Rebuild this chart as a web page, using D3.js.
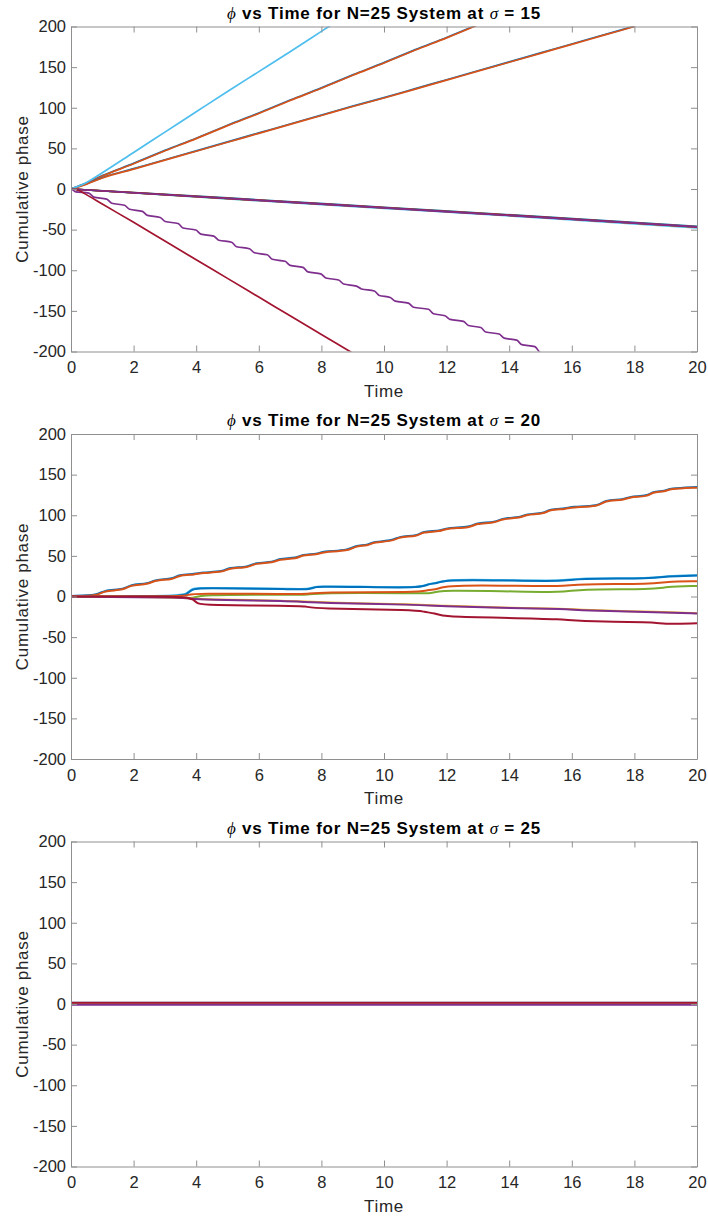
<meta charset="utf-8">
<html>
<script src="https://d3js.org/d3.v7.min.js"></script>
<style>
body { margin: 0; background: #fff; }
svg text { font-family: "Liberation Sans", Arial, Helvetica, sans-serif; }
</style>
<body>
<svg id="fig" width="708" height="1217"></svg>
<script type="text/javascript">

// ---- data ----
var xTicks = [0, 2, 4, 6, 8, 10, 12, 14, 16, 18, 20];
var yTicks = [-200, -150, -100, -50, 0, 50, 100, 150, 200];
var sigmas = [15, 20, 25];

// sigma = 15   ([time, cumulative phase])
var p1LightBlue = [[0,0],[0.5,8],[1,20],[2,45],[3,70],[4,95],[5,120],[6,144.5],[7,169],[8,194],[8.4,204]];
var p1BlueA   = [[0,0],[0.5,7.5],[1,16.5],[2,31.5],[3,47.5],[4,62.5],[5,78.5],[6,93.5],[7,109.5],[8,124.5],[9,140.5],[10,155.5],[11,171.5],[12,186.5],[13,202.5]];
var p1OrangeA = [[0,0],[0.5,7],[1,16],[2,31],[3,47],[4,62],[5,78],[6,93],[7,109],[8,124],[9,140],[10,155],[11,171],[12,186],[13,202]];
var p1BlueB   = [[0,0],[0.5,6.5],[1,14],[2,25],[3,36],[4,47],[5,58],[6,69],[7,80],[8,91],[9,102],[10,112.5],[11,123.5],[12,134.5],[13,145.5],[14,156.5],[15,167.5],[16,178.5],[17,189.5],[18,200.5]];
var p1OrangeB = [[0,0],[0.5,6],[1,13.5],[2,24.5],[3,35.5],[4,46.5],[5,57.5],[6,68.5],[7,79.5],[8,90.5],[9,101.5],[10,112],[11,123],[12,134],[13,145],[14,156],[15,167],[16,178],[17,189],[18,200]];
var p1ClLightBlue = [[0,0],[5,-12.2],[10,-23.8],[15,-35.5],[20,-48]];
var p1ClGreen  = [[0,0],[5,-11.8],[10,-23.2],[15,-34.8],[20,-47]];
var p1ClYellow = [[0,0],[5,-11.3],[10,-22.8],[15,-34.3],[20,-46.2]];
var p1ClBlue   = [[0,0],[5,-11],[10,-22.5],[15,-34],[20,-46]];
var p1ClOrange = [[0,0],[5,-11.5],[10,-23],[15,-34.5],[20,-46.5]];
var p1ClRed    = [[0,0],[5,-11.6],[10,-23.1],[15,-34.6],[20,-46.8]];
var p1ClPurple = [[0,0],[5,-11.7],[10,-23.3],[15,-34.9],[20,-46.6]];
var p1Purple = [[0,0],[0.05,-1],[0.15,-3.5],[0.57,-5],[0.73,-10],[1.14,-12.5],[1.3,-17.5],[1.71,-20],[1.87,-25],[2.28,-27.5],[2.44,-32.5],[2.85,-35],[3.01,-40],[3.42,-42.5],[3.58,-48],[3.99,-50.5],[4.15,-55.5],[4.56,-58],[4.72,-63],[5.13,-65.5],[5.29,-71],[5.7,-73.5],[5.86,-78.5],[6.27,-81],[6.43,-86.5],[6.84,-89],[7,-94],[7.41,-96.5],[7.57,-102],[7.98,-104.5],[8.14,-109.5],[8.55,-112],[8.71,-117],[9.12,-119.5],[9.28,-123],[9.69,-125.5],[9.85,-131],[10.2,-133.5],[10.36,-138],[10.78,-140.5],[10.94,-145.5],[11.42,-148],[11.58,-153.5],[11.95,-156],[12.11,-160.5],[12.54,-163],[12.7,-168],[13.09,-170.5],[13.25,-176],[13.68,-178.5],[13.84,-183.5],[14.24,-186],[14.4,-191.5],[14.82,-194],[14.98,-201],[15.2,-204]];
var p1DarkRed = [[0,0],[0.2,-1],[0.45,-6],[1,-18.5],[2,-41],[3,-64],[4,-87],[5,-110],[6,-133],[7,-156],[8,-179],[9,-202]];

// sigma = 20
var p2BlueTop   = [[0,0.7],[0.9,1.7],[1,7.7],[1.75,8.7],[1.85,14.7],[2.5,15.7],[2.65,20.7],[3.3,21.7],[3.4,26.7],[4,27.7],[4.15,29.7],[4.9,30.7],[5,35.7],[5.7,36.2],[5.85,41.7],[6.5,42.2],[6.6,46.7],[7.25,47.2],[7.35,51.7],[7.9,52.2],[8,55.7],[8.9,56.7],[9.05,62.7],[9.5,63.2],[9.65,67.7],[10.3,68.7],[10.45,74.2],[11.1,74.7],[11.2,80.2],[11.85,80.7],[11.95,84.7],[12.8,85.2],[12.9,90.7],[13.6,91.2],[13.75,96.7],[14.4,97.2],[14.5,101.7],[15.15,102.2],[15.25,107.7],[15.85,108.2],[15.95,110.7],[16.9,111.2],[17,118.7],[17.7,119.2],[17.8,123.2],[18.45,123.7],[18.55,129.2],[19,129.7],[19.1,133.2],[20,134.7]];
var p2OrangeTop = [[0,0],[0.9,1],[1,7],[1.75,8],[1.85,14],[2.5,15],[2.65,20],[3.3,21],[3.4,26],[4,27],[4.15,29],[4.9,30],[5,35],[5.7,35.5],[5.85,41],[6.5,41.5],[6.6,46],[7.25,46.5],[7.35,51],[7.9,51.5],[8,55],[8.9,56],[9.05,62],[9.5,62.5],[9.65,67],[10.3,68],[10.45,73.5],[11.1,74],[11.2,79.5],[11.85,80],[11.95,84],[12.8,84.5],[12.9,90],[13.6,90.5],[13.75,96],[14.4,96.5],[14.5,101],[15.15,101.5],[15.25,107],[15.85,107.5],[15.95,110],[16.9,110.5],[17,118],[17.7,118.5],[17.8,122.5],[18.45,123],[18.55,128.5],[19,129],[19.1,132.5],[20,134]];
var p2LightBlue = [[0,0.3],[3.55,0.3],[3.7,4],[3.85,9],[4,10.8],[5,10.5],[7,9.5],[7.6,9],[7.75,11.5],[7.9,12.6],[9,12.4],[11.2,10.8],[11.35,15.4],[11.75,17],[11.9,20.8],[13.7,20.4],[15.85,18.8],[16.05,22.9],[18.7,22.1],[18.95,25.4],[20,26.2]];
var p2Blue   = [[0,0],[3.55,0],[3.7,3],[3.85,8],[4,10.3],[5,10],[7,9],[7.6,8.5],[7.75,11],[7.9,12.2],[9,12],[11.2,10.3],[11.35,15],[11.75,16.5],[11.9,20.4],[13.7,20],[15.85,18.4],[16.05,22.5],[18.7,21.7],[18.95,25],[20,25.8]];
var p2Orange = [[0,0],[3.6,0],[3.75,2],[3.9,4],[7,3],[7.6,3],[7.8,5.4],[11.2,5],[11.35,8],[11.75,9],[11.9,13.5],[13.7,13.5],[15.85,12.2],[16.05,15.5],[18.7,15],[18.95,18.4],[20,18.8]];
var p2Green  = [[0,0],[3.6,-0.5],[3.9,-3],[4.05,2.5],[7,2],[7.6,2],[7.8,4.5],[11.2,4],[11.4,3.5],[11.8,6.5],[11.95,7.3],[13.7,6.8],[15.85,4.5],[16.1,9.4],[18.7,8.6],[18.95,12],[20,13]];
var p2Yellow = [[0,0.3],[1,-0.2],[3.6,-0.9],[3.85,-2.7],[4.2,-3.6],[7,-5],[7.9,-7.6],[11.1,-9.6],[11.8,-11.5],[13.7,-13.6],[15.9,-15],[16.2,-16.6],[18.9,-19],[20,-20.5]];
var p2Purple = [[0,0],[1,-0.5],[3.6,-1.2],[3.85,-3],[4.2,-4],[7,-5.5],[7.9,-8],[11.1,-10],[11.8,-12],[13.7,-14],[15.9,-15.5],[16.2,-17],[18.9,-19.5],[20,-21]];
var p2DarkRed = [[0,0],[3.6,0],[3.75,-2],[3.9,-3],[4.05,-9.5],[4.3,-10.5],[7,-11.5],[7.55,-12],[7.7,-15],[11.1,-16.5],[11.25,-19],[11.65,-20.5],[11.85,-25],[13.7,-26],[15.85,-28],[16,-30.5],[18.7,-31.5],[18.85,-34],[20,-33]];

// sigma = 25
var p3LightBlue = [[0,1.4],[20,1.4]];
var p3Blue      = [[0,1.1],[20,1.1]];
var p3Orange    = [[0,0.7],[20,0.7]];
var p3Green     = [[0,0.3],[20,0.3]];
var p3Yellow    = [[0,-0.1],[20,-0.1]];
var p3DarkRed   = [[0,1.6],[20,1.6]];
var p3Purple    = [[0,-0.9],[20,-0.9]];

// ---- styling / layout ----
var C = {blue: "#0072BD", orange: "#D95319", yellow: "#EDB120", purple: "#7E2F8E",
         green: "#77AC30", lightBlue: "#4DBEEE", darkRed: "#A2142F"};

var panels = [
  {top: 26.5, width: 1.7, curve: d3.curveMonotoneX, series: [
    [p1ClLightBlue, C.lightBlue], [p1ClGreen, C.green], [p1ClYellow, C.yellow], [p1ClBlue, C.blue],
    [p1ClOrange, C.orange], [p1ClRed, C.darkRed], [p1ClPurple, C.purple],
    [p1BlueA, C.blue], [p1OrangeA, C.orange], [p1BlueB, C.blue], [p1OrangeB, C.orange],
    [p1LightBlue, C.lightBlue], [p1Purple, C.purple], [p1DarkRed, C.darkRed]]},
  {top: 434, width: 2, curve: d3.curveBasis, series: [
    [p2BlueTop, C.blue], [p2OrangeTop, C.orange], [p2LightBlue, C.lightBlue], [p2Blue, C.blue],
    [p2Green, C.green], [p2Orange, C.orange], [p2Yellow, C.yellow], [p2Purple, C.purple],
    [p2DarkRed, C.darkRed]]},
  {top: 841.5, width: 2, curve: d3.curveLinear, series: [
    [p3LightBlue, C.lightBlue], [p3Blue, C.blue], [p3Orange, C.orange], [p3Green, C.green],
    [p3Yellow, C.yellow], [p3DarkRed, C.darkRed], [p3Purple, C.purple]]}
];

var left = 71, right = 697, plotH = 325;
var axisColor = "#8f8f8f", textColor = "#262626";

var svg = d3.select("#fig");

var x = d3.scaleLinear().domain([0, 20]).range([0, right - left]);
var y = d3.scaleLinear().domain([-200, 200]).range([plotH, 0]);

function plain(d) { return String(d); }

function styleAxis(g) {
  g.selectAll("path, line").attr("stroke", axisColor).attr("stroke-width", 1);
  g.selectAll("text").attr("fill", textColor).attr("font-family", null).style("font-size", "16.5px");
}

panels.forEach(function(p, i) {
  var g = svg.append("g").attr("transform", "translate(" + left + "," + p.top + ")");

  var line = d3.line()
    .curve(p.curve)
    .x(function(d) { return x(d[0]); })
    .y(function(d) { return y(d[1]); });

  g.append("clipPath").attr("id", "clip" + i)
    .append("rect").attr("width", right - left).attr("height", plotH);

  var lines = g.append("g").attr("clip-path", "url(#clip" + i + ")");
  p.series.forEach(function(s) {
    lines.append("path")
      .datum(s[0])
      .attr("d", line)
      .attr("fill", "none")
      .attr("stroke", s[1])
      .attr("stroke-width", p.width)
      .attr("stroke-linejoin", "round");
  });

  // box with inward ticks
  g.append("g").attr("transform", "translate(0," + plotH + ")")
    .call(d3.axisBottom(x).tickValues(xTicks).tickFormat(plain).tickSizeInner(-6).tickSizeOuter(0).tickPadding(10))
    .call(styleAxis);
  g.append("g")
    .call(d3.axisTop(x).tickValues(xTicks).tickSizeInner(-6).tickSizeOuter(0).tickFormat(""))
    .call(styleAxis);
  g.append("g")
    .call(d3.axisLeft(y).tickValues(yTicks).tickFormat(plain).tickSizeInner(-6).tickSizeOuter(0).tickPadding(5))
    .call(styleAxis);
  g.append("g").attr("transform", "translate(" + (right - left) + ",0)")
    .call(d3.axisRight(y).tickValues(yTicks).tickSizeInner(-6).tickSizeOuter(0).tickFormat(""))
    .call(styleAxis);
  g.selectAll(".domain").attr("fill", "none");

  // title
  var t = g.append("text")
    .attr("x", (right - left) / 2)
    .attr("y", -8)
    .attr("text-anchor", "middle")
    .attr("fill", "#000")
    .style("font-size", "17px")
    .style("letter-spacing", "0.8px")
    .style("font-weight", "bold");
  t.append("tspan").style("font-family", "'Liberation Serif', 'DejaVu Serif', serif")
    .style("font-style", "italic").style("font-weight", "normal").text("\u03D5");
  t.append("tspan").text(" vs Time for N=25 System at ");
  t.append("tspan").style("font-family", "'Liberation Serif', 'DejaVu Serif', serif")
    .style("font-style", "italic").style("font-weight", "normal").text("\u03C3");
  t.append("tspan").text(" = " + sigmas[i]);

  g.append("text")
    .attr("x", (right - left) / 2)
    .attr("y", plotH + 45)
    .attr("text-anchor", "middle")
    .attr("fill", textColor)
    .style("font-size", "17px")
    .style("letter-spacing", "0.7px")
    .text("Time");

  g.append("text")
    .attr("transform", "translate(" + (28 - left) + "," + (plotH / 2) + ") rotate(-90)")
    .attr("text-anchor", "middle")
    .attr("fill", textColor)
    .style("font-size", "17px")
    .style("letter-spacing", "0.7px")
    .text("Cumulative phase");
});

</script>
</body>
</html>
